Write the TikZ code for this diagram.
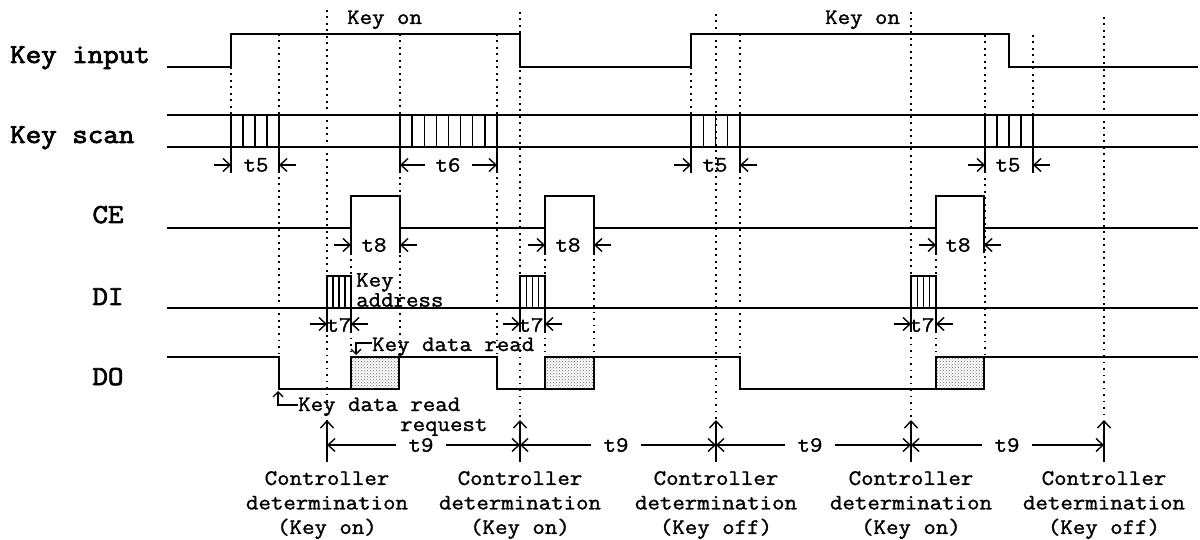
\documentclass[tikz,border=0pt]{standalone}
\usepackage{fontspec}
\newfontfamily\courtxt{Latin Modern Mono}[FakeStretch=1.1, FakeBold=1.4]
\newfontfamily\courlab{Latin Modern Mono}[FakeStretch=1.1, FakeBold=2.8]
\usetikzlibrary{arrows.meta,patterns}
\begin{document}
\begin{tikzpicture}[x=1pt,y=-1pt,
  sig/.style={line width=1.7pt, line join=miter},
  thinl/.style={line width=1.4pt},
  dotl/.style={line width=1.8pt, dash pattern=on 1.8pt off 4.7pt},
  tip/.style={line width=1.4pt, -{Straight Barb[length=7pt,width=13pt,line width=1.4pt]}},
  tipsm/.style={line width=1.3pt, -{Straight Barb[length=5pt,width=10pt,line width=1.3pt]}},
  lab/.style={font=\courlab\fontsize{27.4}{30}\selectfont, inner sep=0pt, anchor=base west},
  txt/.style={font=\courtxt\fontsize{22}{24.5}\selectfont, inner sep=0pt},
  tlab/.style={txt, anchor=center},
  nine/.style={txt, anchor=center, inner xsep=12pt},
  ctl/.style={txt, align=center, anchor=north},
]
\useasboundingbox (0,0) rectangle (1200,540);

% dotted guide lines
\foreach \x/\ya/\yb in {231/67/115, 279/34/357, 327/10/420, 351/253/357, 400/34/357,
  497/34/357, 520/12/420, 545/253/357, 594/253/357, 691/67/115, 716/14/420, 740/34/357,
  911/12/420, 936/253/357, 985/35/357, 1033/35/115, 1104/17/420}
  \draw[dotl] (\x,\ya) -- (\x,\yb);

% signal labels
\node[lab] (lki) at (10,63) {Key input};
\node[lab] (lks) at (10,143) {Key scan};
\node[lab,anchor=base] (lce) at (108,223) {CE};
\node[lab,anchor=base] (ldi) at (108,305) {DI};
\node[lab,anchor=base] (ldo) at (108,385) {DO};

% Key input
\draw[sig] (167,67) -- (231,67) -- (231,34) -- (520,34) -- (520,67) -- (691,67) -- (691,34)
  -- (1009,34) -- (1009,67) -- (1198,67);

% Key scan
\draw[sig] (167,115) -- (1198,115);
\draw[sig] (167,147) -- (1198,147);
\foreach \a/\b/\n in {231/279/4, 400/497/8, 691/740/4, 985/1033/4}{
  \foreach \i in {0,...,\n}
    \draw[thinl] ({\a+(\b-\a)*\i/\n},115) -- ({\a+(\b-\a)*\i/\n},147);
  \draw[thinl] (\a,147) -- (\a,173);
  \draw[thinl] (\b,147) -- (\b,173);
}

% CE
\draw[sig] (167,228) -- (351,228) -- (351,196) -- (400,196) -- (400,228) -- (545,228)
  -- (545,196) -- (594,196) -- (594,228) -- (936,228) -- (936,196) -- (984,196)
  -- (984,228) -- (1198,228);
\foreach \x in {351,400,545,594,936,984}
  \draw[thinl] (\x,228) -- (\x,253);

% DI
\draw[sig] (167,308) -- (1198,308);
\foreach \a/\b in {327/351, 520/545, 911/936}{
  \draw[sig] (\a,308) -- (\a,276) -- (\b,276) -- (\b,308);
  \foreach \i in {1,2,3}
    \draw[thinl] ({\a+(\b-\a)*\i/4},276) -- ({\a+(\b-\a)*\i/4},308);
  \draw[thinl] (\a,308) -- (\a,332);
  \draw[thinl] (\b,308) -- (\b,332);
}

% DO
\draw[sig] (167,357) -- (279,357) -- (279,389) -- (351,389);
\draw[sig] (399,357) -- (497,357) -- (497,389) -- (545,389);
\draw[sig] (594,357) -- (740,357) -- (740,389) -- (936,389);
\draw[sig] (984,357) -- (1198,357);
\foreach \a/\b in {351/399, 545/594, 936/984}
  \draw[sig, pattern=crosshatch dots, pattern color=black!60] (\a,357) rectangle (\b,389);

% inward interval arrows (t5, t8, t7)
\foreach \a/\b/\y in {231/279/165, 691/740/165, 985/1033/165,
  351/400/245, 545/594/245, 936/984/245,
  327/351/324, 520/545/324, 911/936/324}{
  \draw[tip] (\a-17,\y) -- (\a,\y);
  \draw[tip] (\b+17,\y) -- (\b,\y);
}
% outward t6 arrows
\draw[tip] (425,165) -- (400,165);
\draw[tip] (472,165) -- (497,165);

% interval labels
\node[tlab] (t5a) at (256,165) {t5};
\node[tlab] (t6a) at (448,165) {t6};
\node[tlab] (t5b) at (715,165) {t5};
\node[tlab] (t5c) at (1008,165) {t5};
\node[tlab] (t8a) at (374,245) {t8};
\node[tlab] (t8b) at (568,245) {t8};
\node[tlab] (t8c) at (958,245) {t8};
\node[tlab] (t7a) at (339,325) {t7};
\node[tlab] (t7b) at (531,325) {t7};
\node[tlab] (t7c) at (922,325) {t7};

% Key on labels
\node[txt, anchor=base west] (kon1) at (347,24) {Key on};
\node[txt, anchor=base west] (kon2) at (825,24) {Key on};

% Key address / key data read
\node[txt, align=left, anchor=north west, font=\courtxt\fontsize{22}{20}\selectfont] (kadr) at (356,273) {Key\\address};
\node[txt, anchor=base west] (kdr) at (372,351) {Key data read};
\coordinate (kdrtip) at (356,355);
\draw[tipsm] ([yshift=8pt]kdr.base west) -| (kdrtip);
\node[txt, anchor=base west] (kdrq) at (298,411) {Key data read};
\node[txt, anchor=base west] (req) at (400,431) {request};
\coordinate (kdrqtip) at (278,391);
\draw[tipsm] ([yshift=6pt]kdrq.base west) -| (kdrqtip);

% controller determination points
\foreach \i/\x in {1/327, 2/520, 3/716, 4/911, 5/1104}{
  \coordinate (c\i) at (\x,445);
  \coordinate (u\i) at (\x,420);
  \coordinate (d\i) at (\x,462);
  \draw[tip] (d\i) -- (u\i);
}
\node[ctl] (cd1) at (327,471) {Controller\\determination\\(Key on)};
\node[ctl] (cd2) at (520,471) {Controller\\determination\\(Key on)};
\node[ctl] (cd3) at (716,471) {Controller\\determination\\(Key off)};
\node[ctl] (cd4) at (911,471) {Controller\\determination\\(Key on)};
\node[ctl] (cd5) at (1104,471) {Controller\\determination\\(Key off)};

% t9 intervals
\node[nine] (t9a) at (421,445) {t9};
\node[nine] (t9b) at (616,445) {t9};
\node[nine] (t9c) at (810,445) {t9};
\node[nine] (t9d) at (1007,445) {t9};
\draw[tip] (t9a.west) -- (c1);
\draw[tip] (t9a.east) -- (c2);
\draw[tip] (t9b.west) -- (c2);
\draw[tip] (t9b.east) -- (c3);
\draw[tip] (t9c.west) -- (c3);
\draw[tip] (t9c.east) -- (c4);
\draw[tip] (t9d.west) -- (c4);
\draw[tip] (t9d.east) -- (c5);
\end{tikzpicture}
\end{document}
